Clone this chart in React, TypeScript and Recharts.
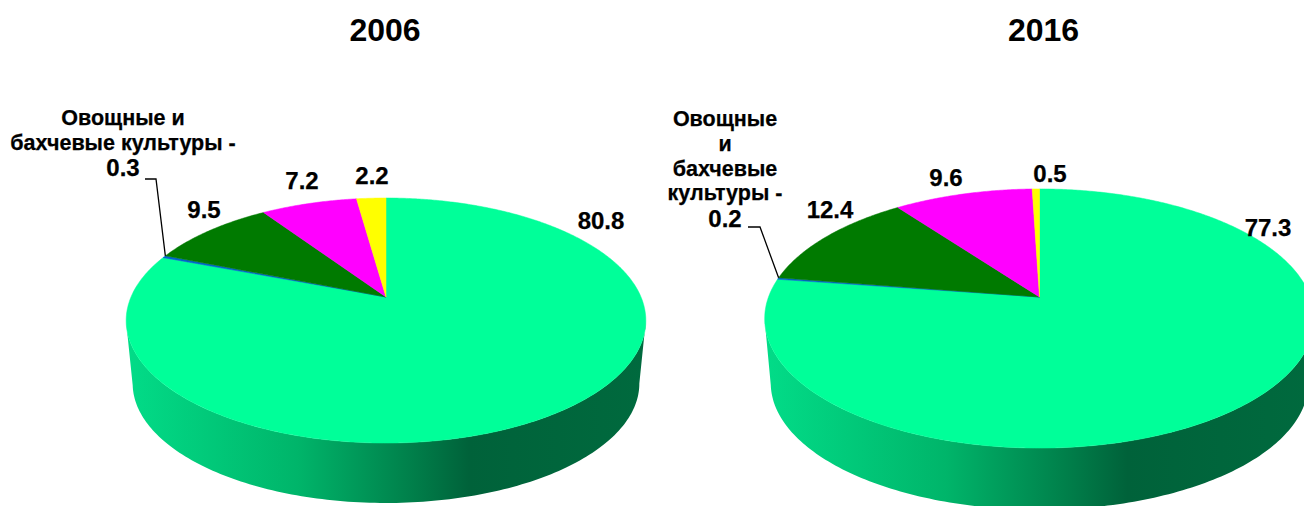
import { PieChart, Pie, Cell } from "recharts";

const categories = ["Прочие", "Овощные и бахчевые культуры", "Зерновые", "Кормовые", "Технические"];
const values2006 = [80.8, 0.3, 9.5, 7.2, 2.2];
const values2016 = [77.3, 0.2, 12.4, 9.6, 0.5];
const COLORS = ["#00FF99", "#0066CC", "#007A00", "#FF00FF", "#FFFF00"];

const FONT = '"Liberation Sans", Arial, sans-serif';

type View = {
    cx: number; cy: number; r: number;
    squash: number; persp: number;
    depth: number; shrink: number;
    labels: { x: number; y: number; lines: string[] }[];
    leader: number[][];
};

const view2006: View = {
    cx: 386, cy: 297, r: 255, squash: 118 / 255, persp: 0.192, depth: 63.6, shrink: 0.975,
    labels: [
        { x: 601, y: 220, lines: ["80.8"] },
        { x: 123, y: 118, lines: ["Овощные и", "бахчевые культуры -", "0.3"] },
        { x: 204, y: 209, lines: ["9.5"] },
        { x: 302, y: 180, lines: ["7.2"] },
        { x: 372, y: 175, lines: ["2.2"] },
    ],
    leader: [[145, 179], [156, 179]],
};

const view2016: View = {
    cx: 1039.5, cy: 297, r: 271, squash: 126 / 271, persp: 0.166, depth: 65, shrink: 0.978,
    labels: [
        { x: 1268, y: 227, lines: ["77.3"] },
        { x: 725, y: 119, lines: ["Овощные", "и", "бахчевые", "культуры -", "0.2"] },
        { x: 830, y: 209, lines: ["12.4"] },
        { x: 946, y: 177, lines: ["9.6"] },
        { x: 1050, y: 173, lines: ["0.5"] },
    ],
    leader: [[748, 227], [760, 227]],
};

// circle point (unit x, unit y toward viewer) -> tilted screen point
function project(v: View, ux: number, uy: number, depth = 0, scale = 1) {
    const w = 1 - v.persp * uy;
    return [v.cx + (scale * v.r * ux) / w, v.cy + depth + (scale * v.r * v.squash * uy) / w];
}

function angleToUnit(deg: number) {
    const a = (deg * Math.PI) / 180;
    return [Math.cos(a), -Math.sin(a)];
}

function toPath(pts: number[][]) {
    return "M" + pts.map((p) => p[0].toFixed(2) + "," + p[1].toFixed(2)).join("L") + "Z";
}

function wallPath(v: View) {
    const ext = (Math.asin(v.persp) * 180) / Math.PI;
    // front arc from the right extreme round to the left extreme
    const top: number[][] = [];
    const bottom: number[][] = [];
    for (let d = -ext; d >= -180 + ext; d -= 1) {
        const [ux, uy] = angleToUnit(d);
        top.push(project(v, ux, uy));
        bottom.push(project(v, ux, uy, v.depth, v.shrink));
    }
    return toPath([...top, ...bottom.reverse()]);
}

function makeSlice(v: View) {
    return function Slice(props: any) {
        const { startAngle, endAngle, fill } = props;
        const pts: number[][] = [[v.cx, v.cy]];
        const n = Math.max(2, Math.ceil(Math.abs(endAngle - startAngle) * 2));
        for (let i = 0; i <= n; i++) {
            const [ux, uy] = angleToUnit(startAngle + ((endAngle - startAngle) * i) / n);
            pts.push(project(v, ux, uy));
        }
        return (
            <g>
                {startAngle === 90 && <path d={wallPath(v)} fill="url(#wallGrad)" stroke="none" />}
                <path d={toPath(pts)} fill={fill} stroke={fill} strokeWidth={0.5} />
            </g>
        );
    };
}

function makeLabel(v: View) {
    return function SliceLabel(props: any) {
        const { index, endAngle } = props;
        const lab = v.labels[index];
        const lineH = lab.lines.length > 1 ? 24.8 : 0;
        let leader = null;
        if (index === 1) {
            const [ux, uy] = angleToUnit(endAngle);
            const tip = project(v, ux, uy);
            const line = [...v.leader, tip].map((p) => p.join(",")).join(" ");
            leader = <polyline points={line} fill="none" stroke="#000" strokeWidth={1.3} />;
        }
        return (
            <g>
                {leader}
                {lab.lines.map((t, i) => {
                    const isValue = i === lab.lines.length - 1;
                    return (
                        <text
                            key={i}
                            x={lab.x}
                            y={lab.y + i * lineH}
                            textAnchor="middle"
                            dominantBaseline="central"
                            fontFamily={FONT}
                            fontWeight="bold"
                            fontSize={isValue ? 24 : 21.5}
                            stroke="#000"
                            strokeWidth={0.25}
                            fill="#000"
                        >
                            {t}
                        </text>
                    );
                })}
            </g>
        );
    };
}

const titleStyle = {
    position: "absolute",
    top: 10,
    width: 200,
    textAlign: "center",
    fontFamily: FONT,
    fontWeight: "bold",
    fontSize: 32,
    lineHeight: "40px",
    color: "#000",
} as const;

const toData = (values: number[]) => values.map((value, i) => ({ name: categories[i], value }));

export default function App() {
    const series = [
        { view: view2006, data: toData(values2006) },
        { view: view2016, data: toData(values2016) },
    ];
    return (
        <div style={{ position: "absolute", left: 0, top: 0, width: 1304, height: 506, overflow: "hidden", background: "#fff" }}>
            <div style={{ ...titleStyle, left: 285 }}>2006</div>
            <div style={{ ...titleStyle, left: 943.5 }}>2016</div>
            <PieChart width={1304} height={506} margin={{ top: 0, right: 0, bottom: 0, left: 0 }}>
                <defs>
                    <linearGradient id="wallGrad" x1="0" y1="0" x2="1" y2="0">
                        <stop offset="0" stopColor="#02DC88" />
                        <stop offset="0.33" stopColor="#00B56A" />
                        <stop offset="0.55" stopColor="#007F4A" />
                        <stop offset="0.66" stopColor="#00623A" />
                        <stop offset="1" stopColor="#006A3E" />
                    </linearGradient>
                </defs>
                {series.map(({ view, data }, k) => (
                    <Pie
                        key={k}
                        data={data}
                        dataKey="value"
                        nameKey="name"
                        cx={view.cx}
                        cy={view.cy}
                        innerRadius={0}
                        outerRadius={view.r}
                        startAngle={90}
                        endAngle={-270}
                        stroke="none"
                        shape={makeSlice(view)}
                        label={makeLabel(view)}
                        labelLine={false}
                        isAnimationActive={false}
                    >
                        {data.map((_, i) => (
                            <Cell key={i} fill={COLORS[i]} />
                        ))}
                    </Pie>
                ))}
            </PieChart>
        </div>
    );
}
